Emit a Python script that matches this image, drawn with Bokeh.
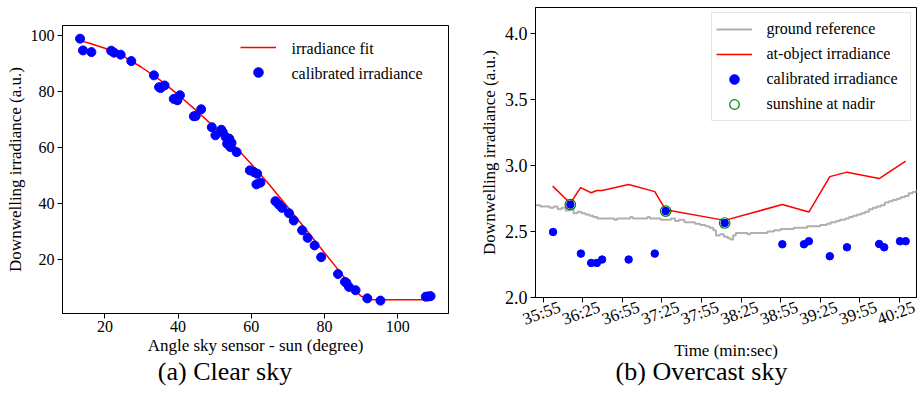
import math
from bokeh.plotting import figure
from bokeh.layouts import row, column
from bokeh.models import (Range1d, FixedTicker, Legend, LegendItem,
                          LinearAxis, Label, Div)
from bokeh.embed import file_html
from bokeh.resources import INLINE

FONT = "Liberation Serif"

# ---------------- (a) Clear sky ----------------
angle_deg = [13.2, 14.0, 16.3, 21.7, 22.5, 24.3, 27.2, 33.4, 34.8, 35.2, 36.3,
             38.8, 39.3, 39.8, 40.5, 44.3, 44.8, 46.3, 49.2, 50.2, 51.8, 52.2,
             53.0, 53.4, 53.8, 54.0, 54.3, 54.6, 56.0, 59.6, 60.7, 61.6, 61.4,
             62.5, 66.6, 67.5, 68.4, 70.3, 71.6, 73.9, 75.4, 77.3, 79.1, 83.7,
             85.6, 86.0, 86.7, 88.5, 91.7, 95.3, 107.7, 108.4, 109.0]
calib_irr = [98.7, 94.5, 93.9, 94.4, 93.7, 93.0, 90.7, 85.6, 81.4, 81.1, 82.0,
             77.2, 77.3, 76.7, 78.5, 71.0, 71.1, 73.5, 67.1, 64.2, 66.2, 65.3,
             63.6, 61.2, 62.4, 63.0, 60.0, 61.5, 58.2, 51.7, 51.1, 50.5, 46.7,
             47.3, 40.7, 39.5, 38.3, 36.4, 33.8, 30.3, 27.6, 24.9, 20.7, 14.7,
             11.9, 11.5, 10.1, 8.9, 6.0, 5.2, 6.6, 6.7, 6.8]
fit_angle = [13, 16, 20, 25, 30, 35, 40, 45, 50, 55, 60, 65, 70, 75, 80, 85,
             88, 90, 92, 95, 100, 105, 109]
fit_irr = [98.1, 97.0, 95.3, 92.5, 88.5, 84.0, 78.7, 73.0, 67.0, 61.0, 54.0,
           46.5, 38.5, 30.5, 22.3, 14.2, 9.3, 6.8, 5.6, 5.5, 5.5, 5.5, 5.5]
a_xticks = [20, 40, 60, 80, 100]
a_yticks = [20, 40, 60, 80, 100]
a_legend = ["irradiance fit", "calibrated irradiance"]

# ---------------- (b) Overcast sky ----------------
time_labels = ["35:55", "36:25", "36:55", "37:25", "37:55", "38:25", "38:55",
               "39:25", "39:55", "40:25"]
# time in seconds (min*60 + sec)
ground_t = [2149.2, 2153, 2157, 2160, 2163, 2166, 2169, 2172, 2175, 2178, 2181,
            2184, 2187, 2190, 2193, 2196, 2200, 2205, 2209, 2211, 2216, 2221,
            2223, 2228, 2234, 2236, 2240, 2244, 2248, 2252, 2255, 2258, 2262,
            2266, 2270, 2274, 2278, 2281, 2284, 2286, 2289, 2292, 2295, 2297,
            2299, 2301, 2306, 2310, 2312, 2320, 2325, 2330, 2335, 2340, 2345,
            2350, 2355, 2360, 2365, 2370, 2373, 2377, 2380, 2384, 2387, 2390,
            2393, 2396, 2399, 2402, 2405, 2408, 2411, 2414, 2417, 2420, 2423,
            2426, 2429, 2432, 2435, 2438]
ground_irr = [2.70, 2.69, 2.69, 2.68, 2.69, 2.67, 2.68, 2.66, 2.67, 2.64, 2.65,
              2.64, 2.63, 2.62, 2.61, 2.60, 2.60, 2.60, 2.59, 2.60, 2.60, 2.61,
              2.60, 2.60, 2.61, 2.60, 2.60, 2.59, 2.59, 2.60, 2.58, 2.59, 2.57,
              2.57, 2.56, 2.55, 2.54, 2.53, 2.51, 2.47, 2.48, 2.46, 2.45, 2.44,
              2.47, 2.49, 2.49, 2.48, 2.49, 2.49, 2.50, 2.51, 2.52, 2.52, 2.53,
              2.53, 2.54, 2.54, 2.55, 2.56, 2.57, 2.58, 2.59, 2.60, 2.61, 2.62,
              2.63, 2.64, 2.65, 2.67, 2.68, 2.69, 2.70, 2.72, 2.73, 2.74, 2.75,
              2.76, 2.77, 2.79, 2.80, 2.82]
object_t = [2162.2, 2175.6, 2183.4, 2191.4, 2195.7, 2199.7, 2219.8, 2239.6,
            2247.9, 2292.6, 2336.3, 2356.4, 2372.3, 2385.3, 2409.7, 2429.8]
object_irr = [2.845, 2.715, 2.833, 2.795, 2.812, 2.812, 2.857, 2.803, 2.665,
              2.585, 2.705, 2.648, 2.917, 2.951, 2.902, 3.035]
calib_t = [2162.5, 2175.6, 2183.6, 2191.4, 2195.7, 2199.7, 2219.8, 2239.6,
           2247.9, 2292.6, 2336.3, 2352.7, 2356.4, 2372.3, 2385.3, 2409.7,
           2413.5, 2425.5, 2429.8]
calib_b = [2.497, 2.705, 2.333, 2.262, 2.262, 2.288, 2.288, 2.333, 2.656,
           2.565, 2.404, 2.404, 2.427, 2.313, 2.381, 2.406, 2.381, 2.427, 2.427]
nadir_t = [2175.6, 2247.9, 2292.6]
nadir_irr = [2.705, 2.656, 2.565]
b_yticks = [2.0, 2.5, 3.0, 3.5, 4.0]
b_legend = ["ground reference", "at-object irradiance",
            "calibrated irradiance", "sunshine at nadir"]


def to_sec(lbl):
    m, s = lbl.split(":")
    return int(m) * 60 + int(s)


def style_axis(ax, tick_size="16px", label_size="17px"):
    ax.axis_line_color = "black"
    ax.major_tick_line_color = "black"
    ax.minor_tick_line_color = None
    ax.major_tick_in = 0
    ax.major_tick_out = 5
    ax.major_label_text_font = FONT
    ax.major_label_text_font_size = tick_size
    ax.major_label_text_color = "black"
    ax.axis_label_text_font = FONT
    ax.axis_label_text_font_size = label_size
    ax.axis_label_text_font_style = "normal"
    ax.axis_label_text_color = "black"
    ax.major_label_standoff = 3
    ax.axis_label_standoff = 3


def style_plot(p, tick_size):
    for ax in (p.xaxis[0], p.yaxis[0]):
        style_axis(ax, tick_size)
    p.xgrid.grid_line_color = None
    p.ygrid.grid_line_color = None
    p.outline_line_color = "black"
    p.outline_line_alpha = 1
    p.background_fill_color = "white"
    p.border_fill_color = "white"
    p.frame_align = False


def legend_texts(p, texts, x_end, y_end, dx, dy0, pitch):
    # legend label texts, placed relative to the frame's top-right corner
    for i, t in enumerate(texts):
        p.add_layout(Label(x=x_end, y=y_end, x_offset=dx,
                           y_offset=-(dy0 + i * pitch), text=t,
                           text_align="left", text_baseline="middle",
                           text_font=FONT, text_font_size="16px",
                           text_color="black", level="overlay"))


def caption(text, width, shift):
    return Div(text=text, width=width, height=30, margin=(0, 0, 0, 0),
               styles={"text-align": "center", "font-family": FONT,
                       "font-size": "26px", "color": "black",
                       "line-height": "20px", "white-space": "nowrap",
                       "transform": "translateX(%dpx)" % shift})


FIG_H = 362

# ---- figure (a) ----
a_xr = (8.4, 113.9)
a_yr = (0.6, 103.4)
pa = figure(width=460, height=FIG_H, output_backend="svg",
            toolbar_location=None,
            x_range=Range1d(*a_xr), y_range=Range1d(*a_yr),
            min_border_left=62, min_border_right=12, min_border_top=25,
            min_border_bottom=FIG_H - 313)
pa.xaxis.axis_label = "Angle sky sensor - sun (degree)"
pa.yaxis.axis_label = "Downwelling irradiance (a.u.)"
pa.xaxis.ticker = FixedTicker(ticks=a_xticks, minor_ticks=[])
pa.yaxis.ticker = FixedTicker(ticks=a_yticks, minor_ticks=[])
style_plot(pa, "16px")
pa.xaxis.major_label_standoff = 2
pa.xaxis.axis_label_standoff = 1

ra_fit = pa.line(fit_angle, fit_irr, line_color="red", line_width=1.5)
ra_pts = pa.scatter(angle_deg, calib_irr, size=9, fill_color="blue",
                    line_color="blue", marker="circle")
lega = Legend(items=[LegendItem(label=" ", renderers=[ra_fit]),
                     LegendItem(label=" ", renderers=[ra_pts])],
              location="top_right", margin=10, padding=1,
              border_line_color=None, background_fill_alpha=0,
              glyph_width=36, glyph_height=24, label_height=24,
              label_width=149, label_standoff=13, spacing=1)
pa.add_layout(lega)
legend_texts(pa, a_legend, a_xr[1], a_yr[1], -157, 23, 25)

# ---- figure (b) ----
t_start, t_end = 2149.2, 2438.0
b_ymin, b_ymax = 2.0, 4.2
label_shift = 12.6  # seconds: centres the slanted labels on their ticks
pb = figure(width=457, height=FIG_H, output_backend="svg",
            toolbar_location=None,
            x_range=Range1d(t_start, t_end), y_range=Range1d(b_ymin, b_ymax),
            min_border_left=75, min_border_right=1, min_border_top=7,
            min_border_bottom=FIG_H - 297)
pb.extra_x_ranges = {"lbl": Range1d(t_start - label_shift, t_end - label_shift)}
pb.yaxis.axis_label = "Downwelling irradiance (a.u.)"
tick_pos = [to_sec(t) for t in time_labels]
pb.xaxis.ticker = FixedTicker(ticks=tick_pos, minor_ticks=[])
pb.yaxis.ticker = FixedTicker(ticks=b_yticks, minor_ticks=[])
pb.yaxis.major_label_overrides = {v: "%.1f" % v for v in b_yticks}
style_plot(pb, "18px")
pb.xaxis.major_label_overrides = {t: "" for t in tick_pos}
pb.xaxis.major_label_standoff = 0

lbl_axis = LinearAxis(x_range_name="lbl",
                      ticker=FixedTicker(ticks=tick_pos, minor_ticks=[]),
                      axis_label="Time (min:sec)")
style_axis(lbl_axis, "17px")
lbl_axis.axis_line_color = None
lbl_axis.major_tick_line_color = None
lbl_axis.major_tick_out = 0
lbl_axis.major_label_standoff = 4
lbl_axis.axis_label_standoff = 0
lbl_axis.major_label_orientation = math.radians(20)
lbl_axis.major_label_overrides = {t: l for t, l in zip(tick_pos, time_labels)}
pb.add_layout(lbl_axis, "below")

rb_g = pb.step(ground_t, ground_irr, mode="after", line_color="#b0b0b0",
               line_width=2)
rb_r = pb.line(object_t, object_irr, line_color="red", line_width=1.5)
rb_b = pb.scatter(calib_t, calib_b, size=7.5, fill_color="blue",
                  line_color="blue", marker="circle")
rb_n = pb.scatter(nadir_t, nadir_irr, size=10.5, fill_color=None,
                  line_color="green", line_width=1.2, marker="circle")
legb = Legend(items=[LegendItem(label=" ", renderers=[rb_g]),
                     LegendItem(label=" ", renderers=[rb_r]),
                     LegendItem(label=" ", renderers=[rb_b]),
                     LegendItem(label=" ", renderers=[rb_n])],
              location="top_right", margin=5, padding=4,
              border_line_color="#cccccc", border_line_width=1,
              background_fill_alpha=0,
              glyph_width=36, glyph_height=24, label_height=24,
              label_width=141, label_standoff=13, spacing=1)
pb.add_layout(legb)
legend_texts(pb, b_legend, t_end, b_ymax, -150, 21, 25)

layout = column(row(pa, pb),
                row(caption("(a) Clear sky", 460, -5),
                    caption("(b) Overcast sky", 457, 13)))
open("out.html", "w").write(file_html(layout, INLINE))
